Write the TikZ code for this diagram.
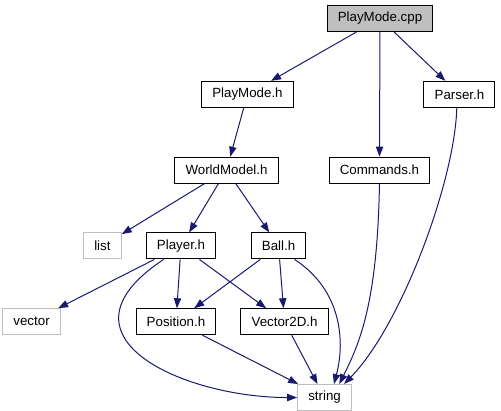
\documentclass[tikz,border=0pt]{standalone}
\usepackage{fontspec}
\setmainfont{Liberation Sans}
\usepackage{xcolor}
\usepackage{tikz}
\usetikzlibrary{arrows.meta, positioning}
\definecolor{edgeblue}{HTML}{191970}
\definecolor{stdgray}{HTML}{BFBFBF}
\tikzset{
    filebox/.style={rectangle, draw=black, line width=0.75pt, fill=white, minimum height=19.5pt, inner xsep=8pt, inner ysep=2pt, font=\fontsize{10}{12}\selectfont},
    rootbox/.style={filebox, fill=stdgray},
    stdbox/.style={filebox, draw=stdgray},
    edge/.style={line width=0.75pt, draw=edgeblue, -{Triangle[length=7.5pt, width=5.5pt]}}
}

\begin{document}
\begin{tikzpicture}
    \useasboundingbox (0,0) rectangle (375.75pt,-308.25pt);
    % Nodes
    \node (cpp) [rootbox] at (285pt,-13.9pt) {PlayMode.cpp};
    \node (pmh) [filebox, below=36.6pt of cpp, xshift=-99.4pt] {PlayMode.h};
    \node (parser) [filebox, below=36.6pt of cpp, xshift=59.6pt] {Parser.h};

    \node (wm) [filebox, below=36.6pt of pmh, xshift=-15.7pt] {WorldModel.h};
    \node (cmd) [filebox, below=36.6pt of parser, xshift=-60pt] {Commands.h};

    \node (player) [filebox, below=36.6pt of wm, xshift=-34.15pt] {Player.h};
    \node (ball) [filebox, below=36.6pt of wm, xshift=39pt] {Ball.h};
    \node (list) [stdbox, left=18pt of player] {list};

    \node (pos) [filebox, below=36.6pt of player, xshift=-3.75pt] {Position.h};
    \node (v2d) [filebox, right=18pt of pos] {Vector2D.h};
    \node (vector) [stdbox, left=56pt of pos] {vector};

    \node (string) [stdbox, below=36.6pt of v2d, xshift=30pt] {string};

    % Arrows
    \draw [edge] (cpp) -- (pmh);
    \draw [edge] (cpp) -- (cmd);
    \draw [edge] (cpp) -- (parser);
    \draw [edge] (pmh) -- (wm);

    \draw [edge] (wm) -- (list);
    \draw [edge] (wm) -- (player);
    \draw [edge] (wm) -- (ball);

    \draw [edge] (player) -- (vector);
    \draw [edge] (player) -- (pos);
    \draw [edge] (player) -- (v2d);
    \draw [edge] (ball) -- (pos);
    \draw [edge] (ball) -- (v2d);

    \draw [edge] (pos) -- (string);
    \draw [edge] (v2d) -- (string);
    \draw [edge] ([xshift=-13pt]player.south) .. controls +(-88pt,-58pt) and +(-85pt,0pt) .. (string.west);
    \draw [edge] ([xshift=12pt]ball.south) .. controls +(34pt,-22pt) and +(9pt,34pt) .. ([xshift=7pt]string.north);
    \draw [edge] (cmd.south) .. controls +(-1.5pt,-90pt) and +(15pt,30pt) .. ([xshift=11pt]string.north);
    \draw [edge] ([xshift=-2pt]parser.south) .. controls +(-1.5pt,-55pt) and +(43pt,44pt) .. ([xshift=14.6pt]string.north);
\end{tikzpicture}
\end{document}
